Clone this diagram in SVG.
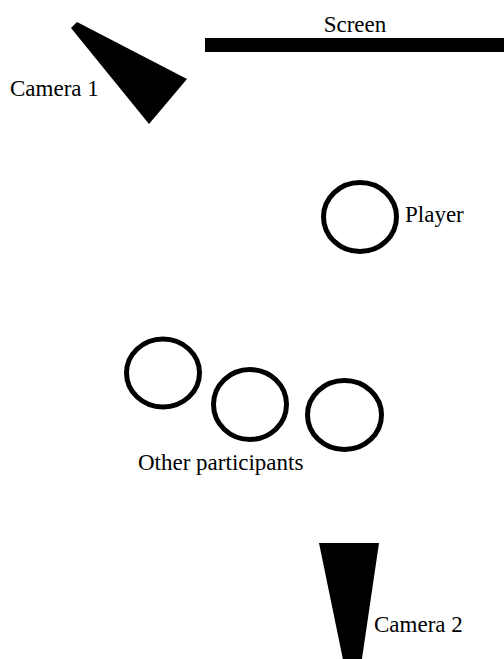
<svg xmlns="http://www.w3.org/2000/svg" width="504" height="659" viewBox="0 0 504 659">
<style>
text{font-family:"Liberation Serif","Times New Roman",serif;font-size:23px;fill:#000}
.p{fill:none;stroke:#000;stroke-width:5}
</style>
<rect width="504" height="659" fill="#fff"/>
<g id="screen"><rect x="205" y="38" width="299" height="14" fill="#000"/><text x="355" y="32" text-anchor="middle">Screen</text></g>
<g id="camera1"><polygon points="77,22 71,28 149,124 187,79" fill="#000"/><text x="10" y="96">Camera 1</text></g>
<g id="player"><ellipse class="p" cx="360" cy="217" rx="36.5" ry="34.5"/><text x="405" y="222">Player</text></g>
<g id="participant1"><ellipse class="p" cx="163" cy="373" rx="36.5" ry="34"/></g>
<g id="participant2"><ellipse class="p" cx="250" cy="404.5" rx="36.5" ry="35"/></g>
<g id="participant3"><ellipse class="p" cx="344.5" cy="415" rx="37" ry="34.5"/></g>
<g id="others-label"><text x="138" y="470">Other participants</text></g>
<g id="camera2"><polygon points="319,543 379,543 354,713" fill="#000"/><text x="374" y="632">Camera 2</text></g>
<g id="connectors"></g>
</svg>
